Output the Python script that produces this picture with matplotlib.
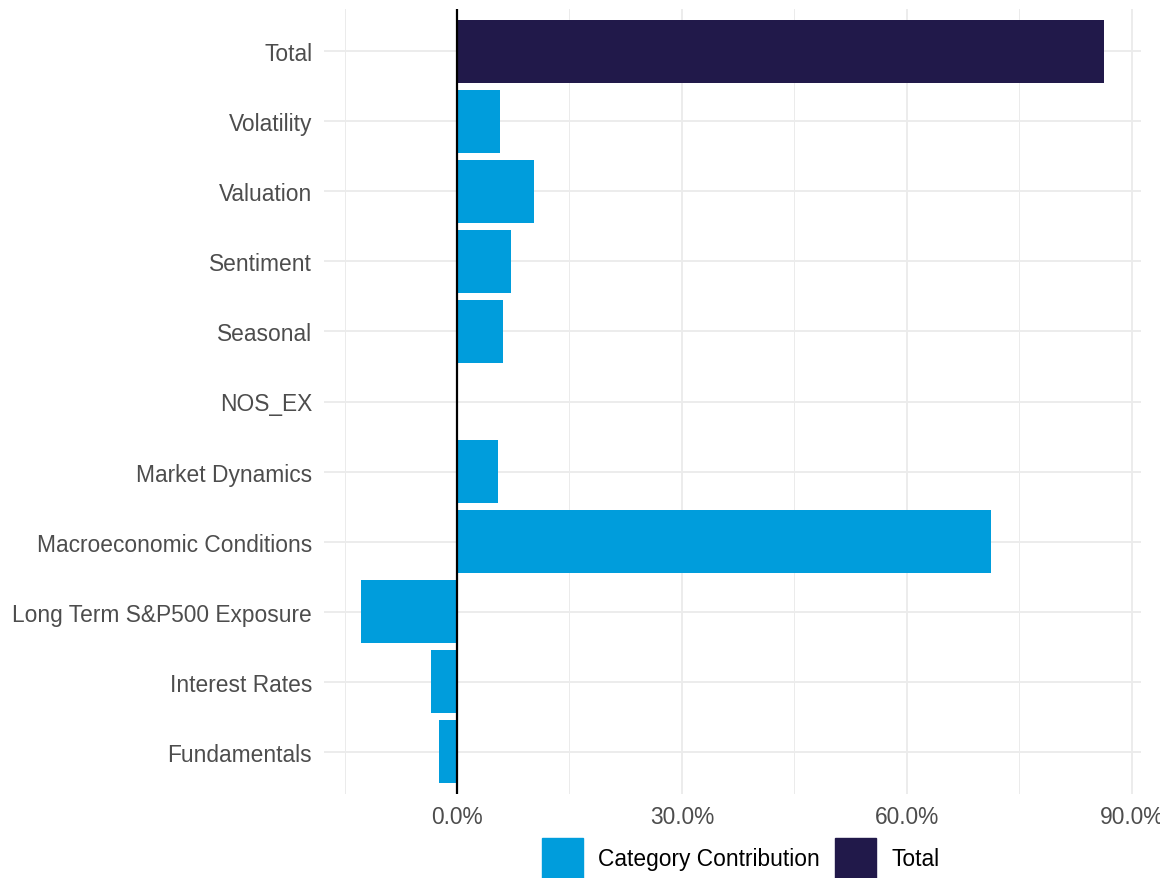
import matplotlib.pyplot as plt
from matplotlib.patches import Patch
from matplotlib.ticker import FuncFormatter, MultipleLocator

plt.rcParams['font.family'] = ['Liberation Sans', 'DejaVu Sans']

# data (percent contribution), bottom to top
categories = ["Fundamentals", "Interest Rates", "Long Term S&P500 Exposure",
              "Macroeconomic Conditions", "Market Dynamics", "NOS_EX",
              "Seasonal", "Sentiment", "Valuation", "Volatility", "Total"]
values = [-2.4, -3.5, -12.8, 71.2, 5.5, 0.0, 6.1, 7.2, 10.3, 5.7, 86.3]
groups = ["Category Contribution"] * 10 + ["Total"]

colors = {"Category Contribution": "#009DDC", "Total": "#21194A"}

fig = plt.figure(figsize=(11.6, 8.79), dpi=100)
ax = fig.add_axes([324 / 1160, 84 / 879, 817 / 1160, 785 / 879])

ypos = list(range(1, len(categories) + 1))
ax.barh(ypos, values, height=0.9, color=[colors[g] for g in groups], zorder=2)
ax.axvline(0, color="black", lw=1.6, zorder=3)

lo, hi = min(min(values), 0), max(values)
pad = (hi - lo) * 0.05
ax.set_xlim(lo - pad, hi + pad)
ax.set_ylim(0.4, len(categories) + 0.6)

ax.xaxis.set_major_locator(MultipleLocator(30))
ax.xaxis.set_minor_locator(MultipleLocator(15))
ax.xaxis.set_major_formatter(FuncFormatter(lambda v, p: f"{v:.1f}%"))
ax.set_yticks(ypos)
ax.set_yticklabels(categories)

ax.grid(axis="x", which="major", color="#EBEBEB", lw=1.3, zorder=0)
ax.grid(axis="x", which="minor", color="#EBEBEB", lw=0.7, zorder=0)
ax.grid(axis="y", which="major", color="#EBEBEB", lw=1.3, zorder=0)
for s in ax.spines.values():
    s.set_visible(False)
ax.tick_params(axis="both", which="both", length=0, labelsize=16.4,
               labelcolor="#4D4D4D")
ax.tick_params(axis="x", pad=8)
ax.tick_params(axis="y", pad=8.5)

handles = [Patch(color=colors[k], label=k) for k in ["Category Contribution", "Total"]]
ax.legend(handles=handles, loc="upper center", bbox_to_anchor=(0.51, -0.056),
          ncol=2, frameon=False, fontsize=16.4, handlelength=1.8, handleheight=2.3,
          columnspacing=0.7, handletextpad=0.65, borderpad=0, borderaxespad=0)

fig.savefig("out.png", dpi=100)
